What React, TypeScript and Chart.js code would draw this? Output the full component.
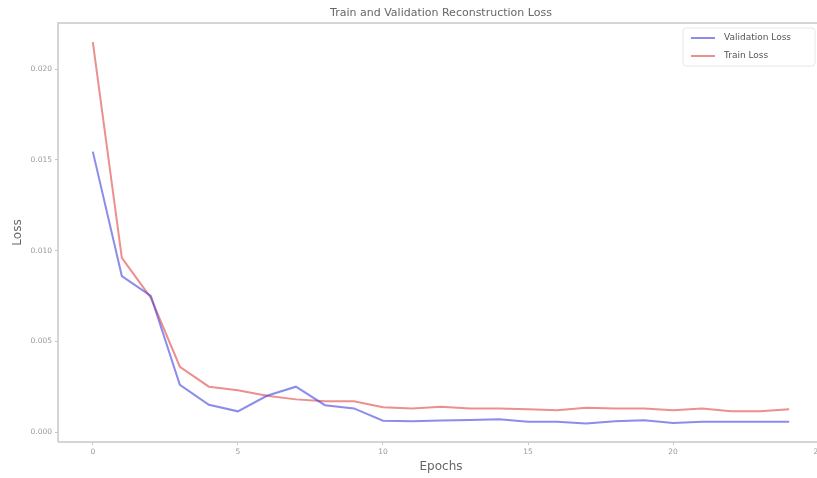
import React, { useEffect, useRef } from "react";
import { Chart, registerables } from "chart.js";

Chart.register(...registerables);

const epochs = [0,1,2,3,4,5,6,7,8,9,10,11,12,13,14,15,16,17,18,19,20,21,22,23,24];
const trainLoss = [0.0215,0.0096,0.0074,0.0036,0.0025,0.0023,0.0020,0.0018,0.0017,0.0017,0.00137,0.0013,0.0014,0.0013,0.0013,0.00126,0.0012,0.00134,0.0013,0.0013,0.0012,0.0013,0.00115,0.00115,0.00126];
const valLoss = [0.01546,0.0086,0.0075,0.0026,0.0015,0.00114,0.0020,0.0025,0.00148,0.0013,0.00062,0.0006,0.00063,0.00066,0.0007,0.00057,0.00057,0.00047,0.0006,0.00065,0.0005,0.00057,0.00057,0.00057,0.00057];
const xTicks = [0,5,10,15,20,25];
const yTicks = [0,0.005,0.01,0.015,0.02];
const titleText = "Train and Validation Reconstruction Loss";
const xLabel = "Epochs";
const yLabel = "Loss";
const seriesNames = ["Validation Loss", "Train Loss"];
const blue = "rgba(70,70,225,0.62)";
const red = "rgba(225,75,75,0.62)";

const decor = {
  id: "decor",
  afterDraw(chart: any) {
    const { ctx, chartArea } = chart;
    const { left, right, top, bottom } = chartArea;
    ctx.save();
    ctx.strokeStyle = "#c8c8c8";
    ctx.lineWidth = 1.5;
    ctx.beginPath();
    ctx.moveTo(left, bottom);
    ctx.lineTo(left, top);
    ctx.lineTo(right, top);
    ctx.moveTo(left, bottom);
    ctx.lineTo(right, bottom);
    ctx.stroke();
    ctx.fillStyle = "#666";
    ctx.font = "11px 'DejaVu Sans'";
    ctx.textAlign = "center";
    ctx.textBaseline = "middle";
    ctx.fillText(titleText, (left + right) / 2, 13);
    const bx = 683, by = 28, bw = 132, bh = 38;
    ctx.fillStyle = "rgba(255,255,255,0.85)";
    ctx.strokeStyle = "#e6e6e6";
    ctx.lineWidth = 1;
    ctx.beginPath();
    ctx.roundRect(bx, by, bw, bh, 3);
    ctx.fill();
    ctx.stroke();
    const items = [
      { name: seriesNames[0], color: blue, y: 38 },
      { name: seriesNames[1], color: red, y: 56 },
    ];
    ctx.font = "9px 'DejaVu Sans'";
    ctx.textAlign = "left";
    items.forEach((it) => {
      ctx.strokeStyle = it.color;
      ctx.lineWidth = 2;
      ctx.beginPath();
      ctx.moveTo(691, it.y);
      ctx.lineTo(715, it.y);
      ctx.stroke();
      ctx.fillStyle = "#555";
      ctx.fillText(it.name, 724, it.y);
    });
    ctx.restore();
  },
};

export default function App() {
  const ref = useRef<HTMLCanvasElement>(null);
  useEffect(() => {
    const chart = new Chart(ref.current as HTMLCanvasElement, {
      type: "line",
      data: {
        datasets: [
          {
            label: seriesNames[0],
            data: epochs.map((e, i) => ({ x: e, y: valLoss[i] })),
            borderColor: blue,
            borderWidth: 2,
            pointRadius: 0,
            tension: 0,
          },
          {
            label: seriesNames[1],
            data: epochs.map((e, i) => ({ x: e, y: trainLoss[i] })),
            borderColor: red,
            borderWidth: 2,
            pointRadius: 0,
            tension: 0,
          },
        ],
      },
      options: {
        animation: false,
        responsive: false,
        layout: { padding: { top: 23, right: 11, left: 0, bottom: 0 } },
        plugins: { legend: { display: false }, title: { display: false }, tooltip: { enabled: false } },
        scales: {
          x: {
            type: "linear",
            min: -1.2,
            max: 25.2,
            afterBuildTicks: (s: any) => { s.ticks = xTicks.map((v) => ({ value: v })); },
            afterFit: (s: any) => { s.height = 36; },
            grid: { drawOnChartArea: false, drawTicks: true, tickLength: 3, color: "#c8c8c8" },
            border: { display: false },
            ticks: { color: "#999", font: { size: 7.5, family: "'DejaVu Sans'" }, padding: 3, maxRotation: 0, callback: (v: any) => String(v) },
            title: { display: true, text: xLabel, color: "#666", font: { size: 12, family: "'DejaVu Sans'" }, padding: { top: 1, bottom: 4 } },
          },
          y: {
            type: "linear",
            min: -0.00055,
            max: 0.02255,
            afterBuildTicks: (s: any) => { s.ticks = yTicks.map((v) => ({ value: v })); },
            afterFit: (s: any) => { s.width = 58; },
            grid: { drawOnChartArea: false, drawTicks: true, tickLength: 3, color: "#c8c8c8" },
            border: { display: false },
            ticks: { color: "#999", font: { size: 7.5, family: "'DejaVu Sans'" }, padding: 3, callback: (v: any) => Number(v).toFixed(3) },
            title: { display: true, text: yLabel, color: "#666", font: { size: 12, family: "'DejaVu Sans'" }, padding: { top: 11, bottom: 0 } },
          },
        },
      },
      plugins: [decor],
    } as any);
    return () => chart.destroy();
  }, []);
  return (
    <div style={{ position: "fixed", left: 0, top: 0, width: 835, height: 478, background: "#fff" }}>
      <canvas ref={ref} width={835} height={478} />
    </div>
  );
}
